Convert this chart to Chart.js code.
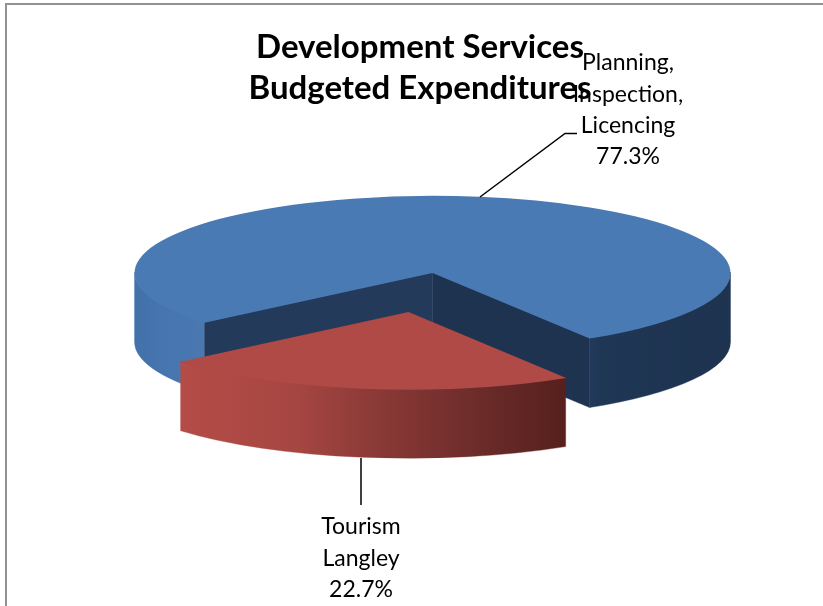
<!DOCTYPE html>
<html>
<head>
<meta charset="utf-8">
<title>Development Services Budgeted Expenditures</title>
<script src="https://cdn.jsdelivr.net/npm/chart.js@4"></script>
<style>html,body{margin:0;padding:0;background:#fff}canvas{display:block}</style>
</head>
<body>
<canvas id="c" width="823" height="606"></canvas>
<script>
const titleLines = ['Development Services', 'Budgeted Expenditures'];
const categories = ['Planning, Inspection, Licencing', 'Tourism Langley'];
const values = [77.3, 22.7];
const labelLines = [['Planning,', 'Inspection,', 'Licencing', '77.3%'], ['Tourism', 'Langley', '22.7%']];
const topColors = ['#4a7ab4', '#b04a46'];

const view = {cx: 432.5, cy: 273, squash: 0.259, depth: 69, seam: 1};
const labelPlace = [{x: 628, y: 63, step: 31.3}, {x: 361, y: 527, step: 31.5}];
const leaders = [[[480, 197], [565, 133.5], [577, 133.5]], [[361, 458], [361, 505]]];

function enter(ctx, arc) {
  ctx.translate(view.cx, view.cy);
  ctx.scale(1, view.squash);
  ctx.translate(-arc.x, -arc.y);
}
function paint(ctx, fill) {
  ctx.fillStyle = fill;
  ctx.strokeStyle = fill;
  ctx.lineWidth = 0.6;
  ctx.fill();
  ctx.stroke();
}
function rimWall(ctx, x, y, r, a0, a1, h, fill) {
  const up = view.seam / view.squash;
  ctx.beginPath();
  ctx.arc(x, y - up, r, a0, a1);
  ctx.arc(x, y + h, r, a1, a0, true);
  ctx.closePath();
  paint(ctx, fill);
}
function cutWall(ctx, x, y, r, a, h, fill) {
  const up = view.seam / view.squash;
  const ex = x + Math.cos(a) * r, ey = y + Math.sin(a) * r;
  ctx.beginPath();
  ctx.moveTo(x, y - up);
  ctx.lineTo(ex, ey - up);
  ctx.lineTo(ex, ey + h);
  ctx.lineTo(x, y + h);
  ctx.closePath();
  paint(ctx, fill);
}

const pie3d = {
  id: 'pie3d',
  beforeDraw(chart) {
    const ctx = chart.ctx;
    ctx.save();
    ctx.fillStyle = '#fff';
    ctx.fillRect(0, 0, chart.width, chart.height);
    ctx.fillStyle = '#929292';
    ctx.fillRect(5, 3, chart.width - 5, 2);
    ctx.fillRect(5, 3, 2, chart.height - 3);
    ctx.restore();
  },
  beforeDatasetsDraw(chart) {
    const ctx = chart.ctx;
    const arcs = chart.getDatasetMeta(0).data;
    const blue = arcs[0], red = arcs[1];
    const h = view.depth / view.squash;
    const r = blue.outerRadius;
    ctx.save();
    enter(ctx, blue);
    // gradients are given in page x; convert to the shifted drawing space
    const sx = ctx.getTransform().e;
    const grad = (x0, x1, stops) => {
      const g = ctx.createLinearGradient(x0 - sx, 0, x1 - sx, 0);
      stops.forEach(s => g.addColorStop(s[0], s[1]));
      return g;
    };
    rimWall(ctx, blue.x, blue.y, r, blue.startAngle, Math.PI, h,
      grad(135, 205, [[0, '#4272aa'], [0.35, '#4674ae'], [1, '#4a79b2']]));
    rimWall(ctx, blue.x, blue.y, r, 0, blue.endAngle - Math.PI * 2, h,
      grad(589, 731, [[0, '#213b5d'], [0.1, '#1f3654'], [1, '#1d3350']]));
    cutWall(ctx, blue.x, blue.y, r, blue.startAngle, h, '#233a5b');
    cutWall(ctx, blue.x, blue.y, r, blue.endAngle, h, '#1d3350');
    const mid = (red.startAngle + red.endAngle) / 2;
    const off = red.options.offset / 4;
    rimWall(ctx, red.x + Math.cos(mid) * off, red.y + Math.sin(mid) * off, r,
      red.startAngle, red.endAngle, h,
      grad(181, 566, [[0, '#b44c47'], [0.3, '#a64642'], [0.5, '#8b3a37'], [0.8, '#692a28'], [1, '#56201d']]));
    ctx.restore();
    ctx.save();
    enter(ctx, blue);
  },
  afterDatasetsDraw(chart) {
    const ctx = chart.ctx;
    ctx.restore();
    ctx.save();
    ctx.strokeStyle = '#000';
    ctx.lineWidth = 1.5;
    leaders.forEach(pts => {
      ctx.beginPath();
      pts.forEach((p, i) => i ? ctx.lineTo(p[0], p[1]) : ctx.moveTo(p[0], p[1]));
      ctx.stroke();
    });
    ctx.fillStyle = '#000';
    ctx.font = '23px Lato';
    ctx.textAlign = 'center';
    ctx.textBaseline = 'middle';
    labelLines.forEach((lines, i) => {
      lines.forEach((t, k) => ctx.fillText(t, labelPlace[i].x, labelPlace[i].y + k * labelPlace[i].step));
    });
    ctx.restore();
  }
};

new Chart(document.getElementById('c'), {
  type: 'pie',
  data: {
    labels: categories,
    datasets: [{
      data: values,
      backgroundColor: topColors,
      borderWidth: 0,
      offset: [0, 610],
      clip: false
    }]
  },
  options: {
    responsive: false,
    animation: false,
    rotation: 229.9,
    radius: 298,
    cutout: '0%',
    events: [],
    layout: {padding: {left: 17}},
    plugins: {
      legend: {display: false},
      tooltip: {enabled: false},
      title: {
        display: true,
        text: titleLines,
        color: '#000',
        font: {family: 'Lato', size: 33, weight: 'bold', lineHeight: 1.24},
        padding: {top: 27, bottom: 10}
      }
    }
  },
  plugins: [pie3d]
});
</script>
</body>
</html>
